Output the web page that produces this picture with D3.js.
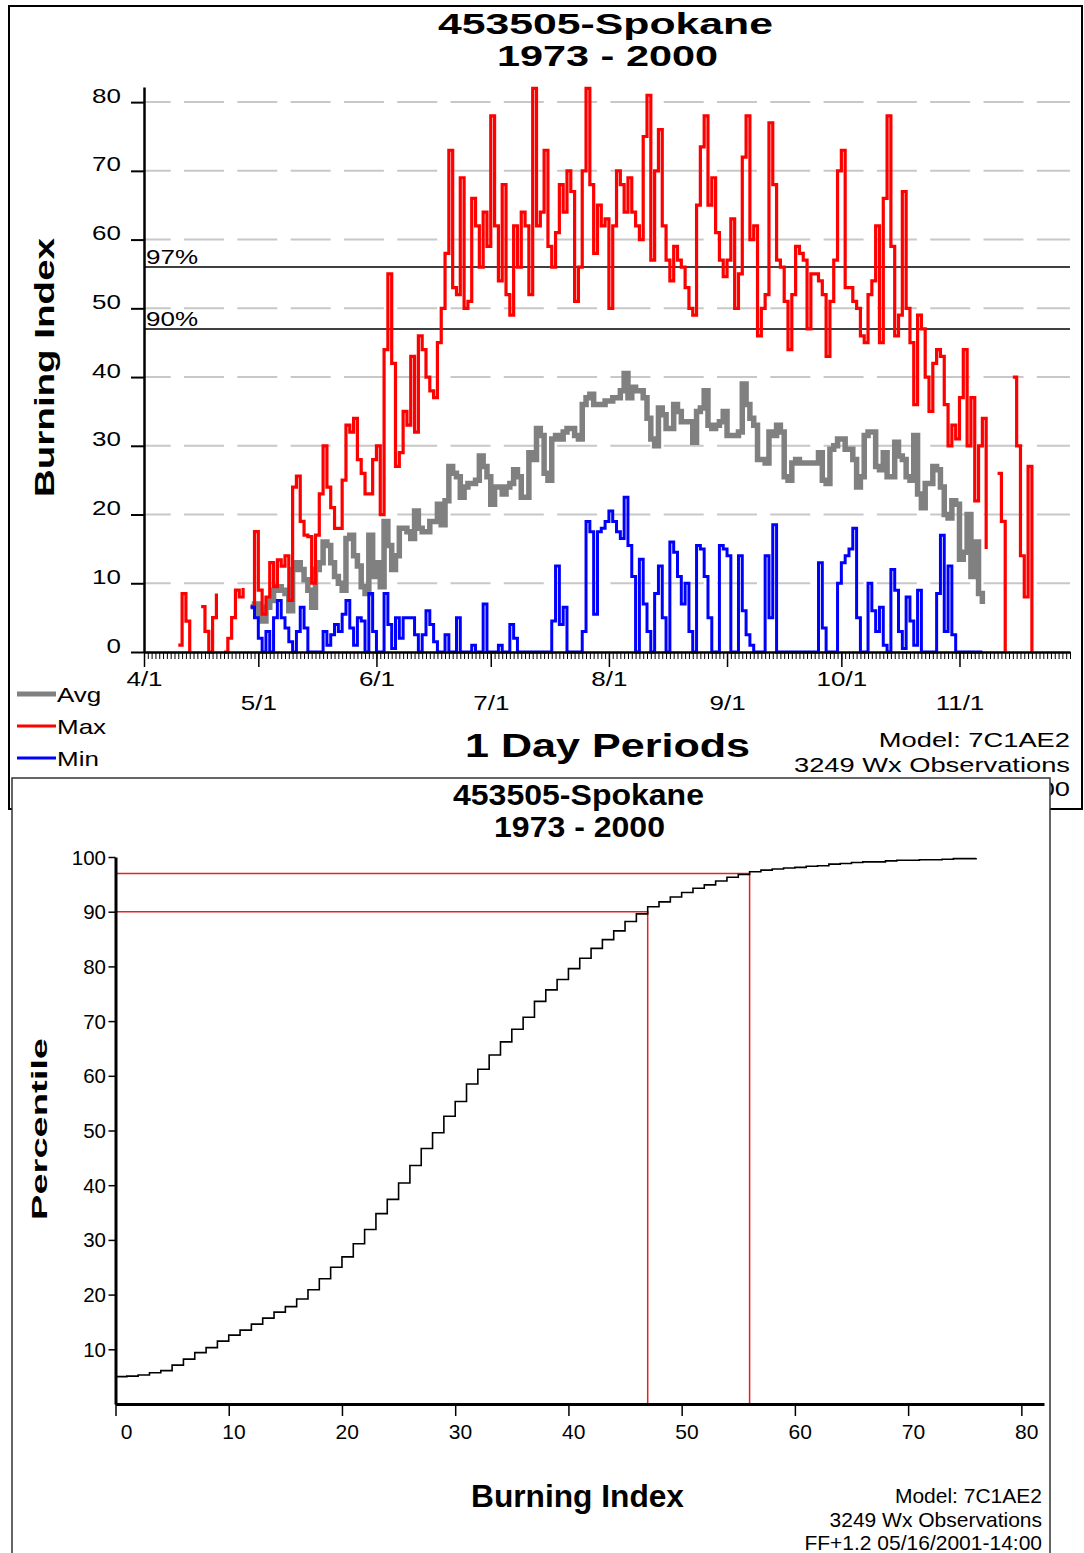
<!DOCTYPE html>
<html>
<head>
<meta charset="utf-8">
<script src="https://cdn.jsdelivr.net/npm/d3@7"></script>
<style>
  body { margin: 0; background: #fff; }
  svg { display: block; }
  text { font-family: "Liberation Sans", Arial, sans-serif; fill: #000; }
</style>
</head>
<body>
<svg id="chart" width="1084" height="1553"></svg>
<script>
// ---- Data ----
const stationTitle = "453505-Spokane";
const yearsTitle = "1973 - 2000";
const footerLines = ["Model: 7C1AE2", "3249 Wx Observations", "FF+1.2 05/16/2001-14:00"];

// Season runs 4/1 .. 11/30, one value per day (null = no data)
const seasonStart = new Date(Date.UTC(2000, 3, 1));
const seasonEnd = new Date(Date.UTC(2000, 10, 30));

const maxBI = [
  null, null, null, null, null, null, null, null, null, 1,        // 4/1
  8.5, 4.5, 0, null, null, 6.6, 3, 0, 5, 8.5,
  null, 0, 2, 5, 9, 8, 9.3, null, 6.6, 17.5,
  9, 5.5, 8, 13, 9.5, 13.4, 12.5, 14, 7.5, 24,                    // 5/1
  25.6, 19, 17, 16.8, 10, 17, 23, 30, 24, 21,
  18, 18, 25, 33, 32, 34, 28, 26, 23, 23,
  28, 30, 20, 44, 55, 42, 27, 29, 35, 33,                         // 6/1
  43, 32, 46, 44, 40, 38, 37, 45, 50, 58,
  73, 53, 52, 69, 50, 51, 66, 62, 56, 64,
  59, 78, 62, 54, 68, 52, 49, 62, 56, 64,                         // 7/1
  62, 52, 82, 62, 64, 73, 59, 56, 61, 68,
  64, 70, 67, 51, 56, 70, 82, 68, 58, 65,
  62, 63, 50, 62, 70, 68, 64, 69, 64, 62,                         // 8/1
  60, 75, 81, 57, 70, 76, 62, 57, 54, 59,
  57, 56, 53, 50, 49, 65, 73.5, 78, 65, 69,
  61, 57, 54.6, 57, 63, 50, 55, 72, 78, 60,                       // 9/1
  62, 46, 50, 52, 77, 68, 57, 56, 51, 44,
  52, 59, 58, 57, 47, 55, 55, 54, 52, 43,
  51, 57, 70, 73, 53, 53, 51, 50, 46, 45,                         // 10/1
  52, 54, 62, 45, 66, 78, 59, 46, 49, 67,
  50, 45, 36, 49, 47, 40, 35, 42, 44, 43,
  36, 30, 33, 31, 37, 44, 30, 37, 22, 30,                         // 11/1
  34, 15, null, null, 26, 19, 0, null, 40, 30,
  14, 8, 27, 0, null, null, null, null, null, null,
  null, null, null, null
];

const avgBI = [
  null, null, null, null, null, null, null, null, null, null,
  null, null, null, null, null, null, null, null, null, null,
  null, null, null, null, null, null, null, null, 6.6, 7,
  5.5, 4.5, 6.5, 7.5, 9, 9.5, 9, 8.5, 6, 12,
  13, 12, 10.5, 9, 6.5, 12, 13, 16, 15.5, 13,
  11, 10, 9, 16.5, 17, 14, 12.5, 9.5, 8.5, 17,
  11, 13, 9.5, 19, 15.5, 12, 14, 18, 18, 17.5,
  16.5, 20.5, 18, 17.5, 17.5, 19, 19, 21.5, 18.5, 22,
  27, 26, 25.5, 22.5, 24, 24.5, 24.5, 25, 28.5, 27,
  25.5, 21.5, 24, 24, 23, 24, 24.5, 26.5, 25.5, 22.5,
  22.5, 29, 28, 32.5, 31.5, 26, 25, 31, 31.5, 31,
  32, 32.5, 32.5, 31.5, 31, 36, 37, 37.5, 36, 36,
  36, 36.5, 36.5, 37, 37, 38, 40.5, 37, 38.5, 38,
  38, 37, 34, 31, 30, 35.5, 34.5, 32.5, 32.5, 36,
  35, 33.5, 33.5, 33.5, 30.5, 35, 35.5, 38, 33, 32.5,
  33, 33.5, 35, 31.5, 31.5, 31.5, 32, 39, 36, 34,
  33, 28, 28, 27.5, 32, 31.5, 33, 32, 25.5, 25,
  27.5, 28, 27.5, 27.5, 27.5, 27.5, 27.5, 29, 25, 24.5,
  29.5, 30, 31, 31, 29.5, 29.5, 28, 24, 25.5, 31.5,
  32, 32, 27, 26.5, 29, 25.5, 25.5, 30.5, 28.5, 28,
  25.5, 25, 31.5, 23, 21, 24.5, 24.5, 27, 26.5, 24,
  20, 19.5, 22, 21.5, 13.5, 14.5, 20, 11, 16, 8.5,
  7, null, null, null, null, null, null, null, null, null,
  null, null, null, null, null, null, null, null, null, null,
  null, null, null, null
];

const minBI = [
  null, null, null, null, null, null, null, null, null, null,
  null, null, null, null, null, null, null, null, null, null,
  null, null, null, null, null, null, null, null, 6.5, 5,
  2, 0, 3, 0, 5, 7.5, 5, 3.5, 1.5, 0,
  3, 6.5, 3.5, 0, 0, 0, 0, 3, 1, 2.5,
  4, 3, 5.5, 7.5, 3.5, 1, 5, 4.5, 0, 8.5,
  3, 0, 0, 8.5, 4, 0.5, 5, 2, 5, 5,
  5, 2.5, 0, 2.5, 6, 4, 1.5, 0, 0, 2.5,
  0, 0, 5, 0, 0, 0, 1, 0, 0, 7,
  0, 0, 0, 1, 0, 0, 4, 2, 0, 0,
  0, 0, 0, 0, 0, 0, 0, 4.5, 12.5, 4,
  6.5, 0, 0, 0, 0, 3, 19, 17.5, 5.5, 17.5,
  18, 19, 20.5, 19, 17.5, 16.5, 22.5, 15.5, 11, 0,
  13.5, 7, 3, 0, 8.5, 12.5, 5, 0, 16, 14.5,
  11, 7, 10, 3, 0, 15.5, 15, 11, 5, 0,
  0, 15.5, 15, 14, 0, 0, 14, 6, 2.5, 1,
  0, 0, 0, 14, 5, 18.5, 0, 0, 0, 0,
  0, 0, 0, 0, 0, 0, 0, 13, 3.5, 0,
  0, 0, 10, 13, 14, 15, 18, 5, 0, 0,
  10, 6, 3, 6.5, 1, 0, 12, 9, 3, 0.5,
  8, 4.5, 1, 9, 0, 0, 0, 0, 8.5, 17,
  3, 12.5, 2.5, 0, 0, 0, 0, 0, 0, 0,
  0, null, null, null, null, null, null, null, null, null,
  null, null, null, null, null, null, null, null, null, null,
  null, null, null, null
];

const biTicks = [0, 10, 20, 30, 40, 50, 60, 70, 80];
const gridValues = [10, 20, 30, 40, 50, 60, 70, 80];
const pctTicks = [10, 20, 30, 40, 50, 60, 70, 80, 90, 100];

// percentile thresholds (burning index at 90th / 97th percentile)
const thresholds = [
  { label: "90%", pct: 90, bi: 47 },
  { label: "97%", pct: 97, bi: 56 }
];

// cumulative percentile for burning index 0, 1, 2 ... 76
const cdfPct = [
  5.0, 5.1, 5.3, 5.7, 6.1, 7.1, 8.2, 9.4, 10.3, 11.5,
  12.6, 13.5, 14.6, 15.7, 16.8, 17.8, 19.2, 20.9, 22.9, 25.0,
  26.9, 29.3, 31.9, 34.8, 37.4, 40.4, 43.6, 46.7, 49.6, 52.6,
  55.3, 58.5, 61.2, 63.8, 66.2, 68.5, 70.7, 73.6, 75.7, 77.6,
  79.6, 81.5, 83.3, 84.9, 86.5, 88.2, 89.6, 90.9, 91.8, 92.7,
  93.5, 94.3, 94.9, 95.6, 96.3, 96.8, 97.3, 97.6, 97.8, 98.0,
  98.1, 98.3, 98.4, 98.7, 98.8, 99.0, 99.1, 99.1, 99.3, 99.4,
  99.4, 99.5, 99.5, 99.6, 99.7, 99.7, 99.8
];

// ---- Config ----
const config = {
  daily: {
    frame: { x: 9, y: 6, w: 1073, h: 803 },
    left: 144, right: 1070, top: 87, bottom: 652,
    textStretch: 1.3
  },
  cdf: {
    frame: { x: 12, y: 778, w: 1038, h: 800 },
    left: 115.5, right: 1044, top: 857, bottom: 1404
  },
  colors: { avg: "#808080", max: "#ff0000", min: "#0000ff", grid: "#c8c8c8", ref: "#e32222" }
};

const svg = d3.select("#chart");

// old chart fonts render wide: squeeze the text into a horizontally stretched box
function stretch(sel, sx) {
  sel.each(function () {
    const t = d3.select(this);
    const x = +t.attr("x") || 0, y = +t.attr("y") || 0;
    t.attr("x", null).attr("y", null).attr("dy", null)
      .attr("transform", `translate(${x},${y}) scale(${sx},1)`);
  });
}

function renderDaily() {
  const c = config.daily;
  const g = svg.append("g").attr("class", "daily");

  g.append("rect")
    .attr("x", c.frame.x).attr("y", c.frame.y).attr("width", c.frame.w).attr("height", c.frame.h)
    .attr("fill", "#fff").attr("stroke", "#000").attr("stroke-width", 2);

  const days = d3.utcDay.range(seasonStart, d3.utcDay.offset(seasonEnd, 1));
  const x = d3.scaleUtc().domain([seasonStart, seasonEnd]).range([c.left, c.right]);
  const y = d3.scaleLinear().domain([0, 82.2]).range([c.bottom, c.top]);

  // dashed grid
  g.append("g").selectAll("line").data(gridValues).join("line")
    .attr("x1", c.left).attr("x2", c.right)
    .attr("y1", d => y(d)).attr("y2", d => y(d))
    .attr("stroke", config.colors.grid).attr("stroke-width", 2)
    .attr("stroke-dasharray", "40,13.3").attr("stroke-dashoffset", 13.3);

  // percentile lines
  const th = g.append("g").selectAll("g").data(thresholds).join("g");
  th.append("line")
    .attr("x1", c.left).attr("x2", c.right)
    .attr("y1", d => y(d.bi)).attr("y2", d => y(d.bi))
    .attr("stroke", "#000").attr("stroke-width", 1.5);
  th.append("text")
    .attr("x", c.left + 2).attr("y", d => y(d.bi) - 3)
    .attr("font-size", 20).text(d => d.label)
    .call(stretch, c.textStretch);

  // series
  const series = [
    { name: "Avg", values: avgBI, color: config.colors.avg, width: 5.5 },
    { name: "Max", values: maxBI, color: config.colors.max, width: 3.2 },
    { name: "Min", values: minBI, color: config.colors.min, width: 3 }
  ];
  const line = d3.line()
    .defined(d => d != null)
    .x((d, i) => x(days[i]))
    .y(d => y(d))
    .curve(d3.curveStepAfter);

  g.append("g").selectAll("path").data(series).join("path")
    .attr("d", d => line(d.values))
    .attr("fill", "none")
    .attr("stroke", d => d.color)
    .attr("stroke-width", d => d.width)
    .attr("stroke-linejoin", "miter");

  // y axis
  const yAxis = g.append("g").attr("transform", `translate(${c.left},0)`)
    .call(d3.axisLeft(y).tickValues(biTicks).tickSize(13).tickSizeOuter(0));
  yAxis.select(".domain").attr("stroke-width", 2.5);
  yAxis.selectAll(".tick line").attr("stroke-width", 2);
  yAxis.selectAll(".tick text")
    .attr("font-size", 20).attr("font-family", null).attr("text-anchor", "end")
    .attr("x", -23).attr("y", 0)
    .call(stretch, c.textStretch);

  // x axis: daily minor ticks, then month ticks with staggered labels
  const xMinor = g.append("g").attr("transform", `translate(0,${c.bottom})`)
    .call(d3.axisBottom(x).tickValues(days).tickSize(7).tickSizeOuter(0).tickFormat(""));
  xMinor.select(".domain").remove();
  xMinor.selectAll(".tick line").attr("stroke-width", 1);

  const months = d3.utcMonth.range(seasonStart, seasonEnd);
  const xAxis = g.append("g").attr("transform", `translate(0,${c.bottom})`)
    .call(d3.axisBottom(x).tickValues(months).tickSize(15).tickSizeOuter(0)
      .tickFormat(d3.utcFormat("%-m/%-d")));
  xAxis.select(".domain").attr("stroke-width", 2.5);
  xAxis.selectAll(".tick line").attr("stroke-width", 1.5);
  xAxis.selectAll(".tick text")
    .attr("font-size", 20).attr("font-family", null)
    .attr("x", 0).attr("y", (d, i) => i % 2 === 0 ? 34 : 58)
    .call(stretch, c.textStretch);

  // y title
  g.append("text")
    .attr("transform", `translate(53.5,${367.5}) rotate(-90)`)
    .attr("text-anchor", "middle").attr("font-weight", "bold").attr("font-size", 28)
    .attr("textLength", 259).attr("lengthAdjust", "spacingAndGlyphs")
    .text("Burning Index");

  // titles
  g.append("text").attr("x", 605.5).attr("y", 34).attr("text-anchor", "middle")
    .attr("font-weight", "bold").attr("font-size", 30)
    .attr("textLength", 335).attr("lengthAdjust", "spacingAndGlyphs").text(stationTitle);
  g.append("text").attr("x", 607.5).attr("y", 66).attr("text-anchor", "middle")
    .attr("font-weight", "bold").attr("font-size", 30)
    .attr("textLength", 221).attr("lengthAdjust", "spacingAndGlyphs").text(yearsTitle);

  g.append("text").attr("x", 607.5).attr("y", 757).attr("text-anchor", "middle")
    .attr("font-weight", "bold").attr("font-size", 33)
    .attr("textLength", 285).attr("lengthAdjust", "spacingAndGlyphs").text("1 Day Periods");

  // legend
  const legend = g.append("g").selectAll("g").data(series).join("g")
    .attr("transform", (d, i) => `translate(17,${694 + i * 32})`);
  legend.append("line").attr("x1", 0).attr("x2", 39)
    .attr("stroke", d => d.color).attr("stroke-width", d => d.name === "Avg" ? 5 : 3);
  legend.append("text").attr("x", 40).attr("y", 7.5).attr("font-size", 20)
    .text(d => d.name).call(stretch, c.textStretch);

  // footer
  g.append("g").selectAll("text").data(footerLines).join("text")
    .attr("x", c.right).attr("y", (d, i) => 747 + i * 24.5)
    .attr("text-anchor", "end").attr("font-size", 21).text(d => d)
    .call(stretch, c.textStretch);
}

function renderCdf() {
  const c = config.cdf;
  const g = svg.append("g").attr("class", "cdf");

  g.append("rect")
    .attr("x", c.frame.x).attr("y", c.frame.y).attr("width", c.frame.w).attr("height", c.frame.h)
    .attr("fill", "#fff").attr("stroke", "#333").attr("stroke-width", 1.5);

  const x = d3.scaleLinear().domain([0, 82]).range([c.left, c.right]);
  const y = d3.scaleLinear().domain([0, 100]).range([c.bottom, c.top]);

  // percentile reference lines
  g.append("g").selectAll("path").data(thresholds).join("path")
    .attr("d", d => `M${x(0)},${y(d.pct)}H${x(d.bi)}V${y(0)}`)
    .attr("fill", "none").attr("stroke", config.colors.ref).attr("stroke-width", 1.5);

  // cumulative curve
  const line = d3.line()
    .x((d, i) => x(i))
    .y(d => y(d))
    .curve(d3.curveStepAfter);
  g.append("path").attr("d", line(cdfPct))
    .attr("fill", "none").attr("stroke", "#000").attr("stroke-width", 1.6);

  // axes
  const yAxis = g.append("g").attr("transform", `translate(${c.left},0)`)
    .call(d3.axisLeft(y).tickValues(pctTicks).tickSize(7).tickSizeOuter(0));
  yAxis.select(".domain").attr("stroke-width", 3);
  yAxis.selectAll(".tick line").attr("stroke-width", 1.5);
  yAxis.selectAll(".tick text")
    .attr("font-size", 20.5).attr("font-family", null)
    .attr("x", -9.5).attr("dy", null).attr("y", 7);

  const xAxis = g.append("g").attr("transform", `translate(0,${c.bottom})`)
    .call(d3.axisBottom(x).tickValues(biTicks).tickSize(12).tickSizeOuter(0));
  xAxis.select(".domain").attr("stroke-width", 3);
  xAxis.selectAll(".tick line").attr("stroke-width", 1.5);
  xAxis.selectAll(".tick text")
    .attr("font-size", 21).attr("font-family", null).attr("text-anchor", "end")
    .attr("x", 16.5).attr("dy", null).attr("y", 35);

  // titles
  g.append("text").attr("x", 578.5).attr("y", 805).attr("text-anchor", "middle")
    .attr("font-weight", "bold").attr("font-size", 30)
    .attr("textLength", 251).attr("lengthAdjust", "spacingAndGlyphs").text(stationTitle);
  g.append("text").attr("x", 579.5).attr("y", 837).attr("text-anchor", "middle")
    .attr("font-weight", "bold").attr("font-size", 30)
    .attr("textLength", 171).attr("lengthAdjust", "spacingAndGlyphs").text(yearsTitle);

  g.append("text")
    .attr("transform", `translate(46.5,1129) rotate(-90)`)
    .attr("text-anchor", "middle").attr("font-weight", "bold").attr("font-size", 22)
    .attr("textLength", 182).attr("lengthAdjust", "spacingAndGlyphs")
    .text("Percentile");

  g.append("text").attr("x", 577.5).attr("y", 1507).attr("text-anchor", "middle")
    .attr("font-weight", "bold").attr("font-size", 31)
    .attr("textLength", 213).attr("lengthAdjust", "spacingAndGlyphs").text("Burning Index");

  // last footer line sits right on the page edge in the original; keep it just inside
  g.append("g").selectAll("text").data(footerLines).join("text")
    .attr("x", 1042).attr("y", (d, i) => 1503 + i * 23.5)
    .attr("text-anchor", "end").attr("font-size", 21).text(d => d);
}

renderDaily();
renderCdf();
</script>
</body>
</html>
